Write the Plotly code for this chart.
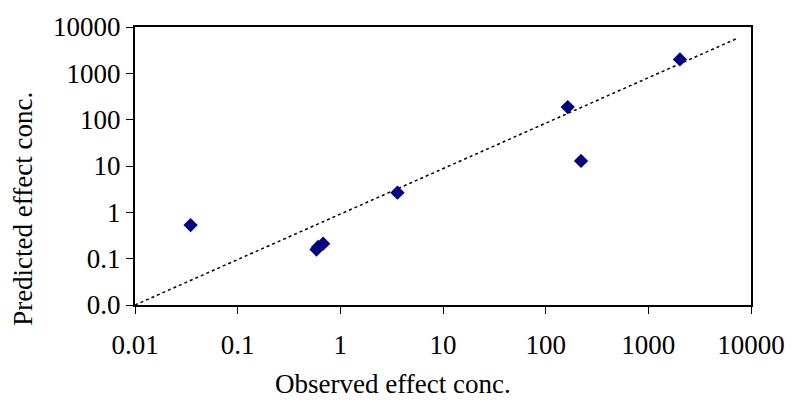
import plotly.graph_objects as go

# Observed vs predicted effect concentrations
observed = [0.0348, 0.586, 0.607, 0.68, 3.6, 164, 221, 2032]
predicted = [0.53, 0.157, 0.179, 0.211, 2.65, 187, 12.9, 1995]

# Power trend line y = a * x^b
trend_a = 0.916
trend_b = 0.981
trend_x = [0.01, 7550]
trend_y = [trend_a * x ** trend_b for x in trend_x]

tick_vals = [0.01, 0.1, 1, 10, 100, 1000, 10000]
x_tick_text = ["0.01", "0.1", "1", "10", "100", "1000", "10000"]
y_tick_text = ["0.0", "0.1", "1", "10", "100", "1000", "10000"]

FONT = "Liberation Serif"
FS = 27

fig = go.Figure()
fig.add_trace(go.Scatter(
    x=trend_x, y=trend_y, mode="lines",
    line=dict(color="black", width=1.5, dash="dot"),
    hoverinfo="skip", showlegend=False))
fig.add_trace(go.Scatter(
    x=observed, y=predicted, mode="markers",
    marker=dict(symbol="diamond", size=11, color="#000080",
                line=dict(width=0)),
    showlegend=False))

fig.update_layout(
    width=797, height=402,
    margin=dict(l=135, r=45, t=25, b=97),
    paper_bgcolor="white", plot_bgcolor="white",
    font=dict(family=FONT, size=FS, color="black"),
    showlegend=False,
)
fig.update_xaxes(
    type="log", range=[-2, 4], tickvals=tick_vals, ticktext=x_tick_text,
    showgrid=False, zeroline=False,
    showline=True, linecolor="black", linewidth=2, mirror=True,
    ticks="outside", ticklen=7, tickcolor="black", tickwidth=1,
    tickfont=dict(family=FONT, size=FS), ticklabelstandoff=8,
)
fig.update_yaxes(
    type="log", range=[-2, 4], tickvals=tick_vals, ticktext=y_tick_text,
    showgrid=False, zeroline=False,
    showline=True, linecolor="black", linewidth=2, mirror=True,
    ticks="outside", ticklen=7, tickcolor="black", tickwidth=1,
    tickfont=dict(family=FONT, size=FS),
)
fig.add_annotation(text="Observed effect conc.", xref="paper", yref="paper",
                   x=(393 - 135) / 617, y=-(385 - 305) / 280,
                   xanchor="center", yanchor="middle", showarrow=False,
                   font=dict(family=FONT, size=FS))
fig.add_annotation(text="Predicted effect conc.", xref="paper", yref="paper",
                   x=-(135 - 23) / 617, y=(305 - 208) / 280, textangle=-90,
                   xanchor="center", yanchor="middle", showarrow=False,
                   font=dict(family=FONT, size=FS))

fig.write_html("out.html")
